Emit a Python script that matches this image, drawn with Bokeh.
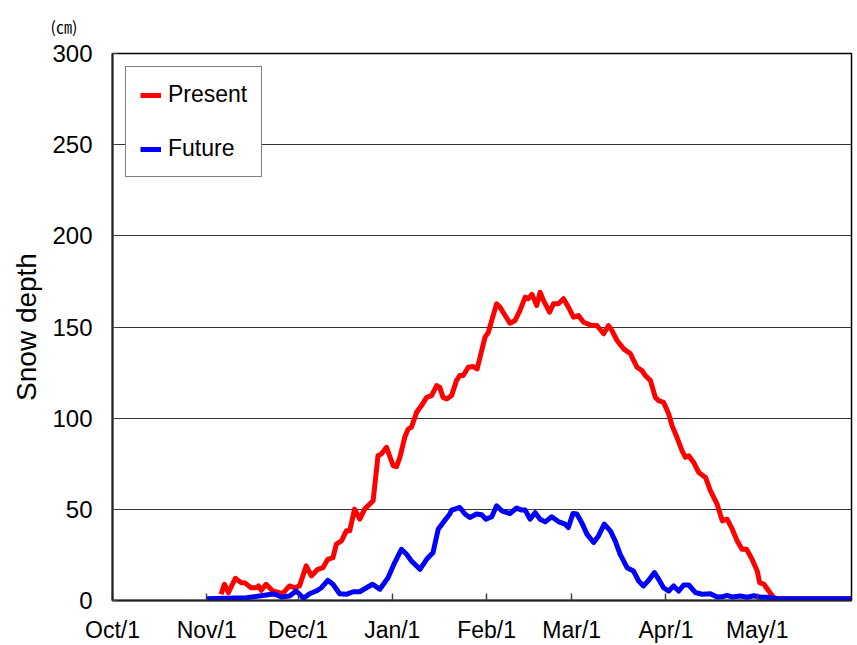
from bokeh.plotting import figure
from bokeh.models import Range1d, Legend, LegendItem, FixedTicker
from bokeh.embed import file_html
from bokeh.resources import INLINE

# x = days since Oct 1
tick_days = [0, 31, 61, 92, 123, 151, 182, 212]
tick_labels = ["Oct/1", "Nov/1", "Dec/1", "Jan/1", "Feb/1", "Mar/1", "Apr/1", "May/1"]
y_ticks = [0, 50, 100, 150, 200, 250, 300]

present_day = [35.7, 36.8, 38.1, 40.4, 42.3, 43.4, 45.6, 47.2, 48.0, 48.9, 50.5, 52.7, 54.9, 56.0,
               58.2, 59.9, 61.5, 63.7, 65.4, 67.5, 69.2, 70.8, 72.5, 73.6, 75.3, 76.9, 78.0, 79.6,
               81.3, 82.9, 85.7, 87.3, 88.4, 90.1, 92.3, 93.4, 94.5, 96.1, 97.2, 98.3, 100.0, 101.6,
               103.3, 104.9, 106.6, 107.6, 108.7, 109.9, 111.5, 113.1, 114.2, 115.3, 117.0, 118.6,
               119.9, 121.4, 122.5, 123.6, 124.7, 126.3, 127.4, 129.1, 130.7, 132.4, 134.0, 135.7,
               136.7, 137.9, 139.5, 140.6, 141.7, 143.7, 145.0, 146.6, 148.3, 149.9, 151.6, 153.2,
               154.9, 157.6, 159.3, 161.5, 163.1, 164.2, 165.9, 168.1, 170.3, 172.5, 174.1, 175.2,
               176.9, 178.5, 179.6, 181.2, 182.9, 184.0, 185.6, 187.3, 188.4, 189.5, 191.1, 192.8,
               195.0, 196.6, 198.8, 200.5, 202.1, 203.8, 205.4, 207.0, 208.5, 210.3, 212.0, 212.8,
               214.2, 215.8, 217.5, 218.5, 243.0]
present_depth = [3.4, 8.9, 4.3, 12.2, 9.8, 9.8, 7.0, 7.0, 8.0, 5.6, 8.9, 5.2, 4.3, 3.9,
                 8.0, 7.0, 8.0, 19.0, 13.5, 17.1, 18.0, 22.6, 23.5, 30.9, 32.7, 38.2, 38.2, 50.1,
                 44.6, 50.1, 54.7, 79.4, 80.3, 84.0, 73.9, 73.4, 78.5, 89.5, 94.0, 95.0, 103.2, 106.9,
                 111.4, 112.4, 117.9, 116.9, 111.4, 110.5, 112.4, 120.6, 123.4, 123.4, 127.9, 128.3,
                 127.0, 137.1, 144.4, 147.1, 153.6, 162.7, 160.9, 156.3, 152.1, 153.6, 159.1, 166.4,
                 165.5, 167.9, 161.8, 169.1, 164.6, 158.1, 162.7, 162.7, 165.5, 160.9, 155.4, 156.3,
                 152.6, 150.8, 150.8, 146.3, 150.8, 148.1, 142.6, 138.0, 135.3, 127.9, 126.1, 123.4,
                 120.6, 111.4, 109.6, 108.7, 102.3, 95.9, 89.5, 82.1, 78.5, 79.4, 75.7, 70.2,
                 67.5, 60.2, 52.9, 43.7, 44.6, 39.1, 32.7, 28.1, 28.1, 22.6, 16.2, 9.8,
                 8.9, 5.2, 1.5, 1.0, 1.0]

future_day = [31.0, 44.0, 48.3, 52.2, 53.3, 55.5, 58.2, 60.4, 61.5, 62.8, 64.8, 67.0, 68.7, 70.8,
              72.5, 74.7, 76.9, 79.1, 81.3, 83.5, 85.5, 87.9, 90.6, 92.8, 95.0, 96.7, 98.3, 101.1,
              103.3, 105.4, 107.1, 108.7, 110.9, 111.5, 114.2, 115.9, 117.5, 119.7, 121.4, 122.8,
              124.7, 126.3, 128.0, 130.7, 132.9, 134.6, 135.7, 137.3, 139.0, 140.6, 142.3, 144.4,
              146.6, 148.8, 149.9, 151.4, 152.7, 154.3, 156.0, 158.2, 159.8, 161.7, 163.7, 165.3,
              166.9, 169.2, 171.3, 173.0, 174.6, 176.3, 178.2, 179.6, 181.2, 182.9, 184.5, 186.2,
              187.8, 189.5, 191.7, 193.9, 196.6, 198.8, 200.5, 202.1, 203.8, 206.4, 208.7, 210.9,
              213.1, 215.3, 218.6, 243.0]
future_depth = [1.0, 1.5, 2.5, 3.4, 3.6, 1.9, 2.5, 5.2, 3.4, 1.2, 3.7, 5.2, 7.0, 11.1,
                8.9, 3.7, 3.4, 4.8, 4.8, 7.0, 8.9, 6.2, 12.5, 20.8, 28.1, 25.4, 21.7, 17.1,
                22.6, 26.3, 39.1, 42.7, 47.4, 49.6, 51.0, 47.4, 45.5, 47.4, 47.0, 44.6,
                45.9, 51.9, 49.2, 47.7, 50.7, 49.6, 49.6, 44.6, 48.2, 44.6, 43.1, 45.9,
                43.3, 41.9, 40.0, 47.7, 47.4, 42.7, 36.4, 31.8, 35.4, 41.9, 38.2, 32.7,
                25.4, 18.0, 16.2, 10.7, 8.0, 11.1, 15.3, 11.6, 7.0, 5.2, 8.0, 5.2,
                8.5, 8.5, 4.3, 3.4, 3.7, 1.9, 2.0, 2.8, 1.9, 2.5, 1.8, 2.6,
                1.8, 1.8, 1.0, 1.0]

FONT = "Liberation Sans"

p = figure(frame_width=739, frame_height=547, output_backend="svg", toolbar_location=None,
           x_range=Range1d(0, 243), y_range=Range1d(0, 300),
           min_border_left=112, min_border_right=2, min_border_top=53, min_border_bottom=42,
           background_fill_color="white", border_fill_color="white",
           title="(㎝)", title_location="above")

p.title.text_font = "Noto Sans CJK JP"
p.title.text_font_size = "16px"
p.title.text_font_style = "normal"
p.title.text_color = "black"
p.title.align = "left"
p.title.vertical_align = "top"
p.title.offset = -62
p.title.standoff = 27

p.outline_line_color = "black"
p.outline_line_width = 1.5

p.xgrid.grid_line_color = None
p.ygrid.grid_line_color = "#333333"
p.ygrid.grid_line_width = 1

# x axis
p.xaxis.ticker = FixedTicker(ticks=tick_days)
p.xaxis.major_label_overrides = {d: t for d, t in zip(tick_days, tick_labels)}
p.xaxis.major_tick_in = 7
p.xaxis.major_tick_out = 0
p.xaxis.minor_tick_line_color = None
p.xaxis.axis_line_color = "#222222"
p.xaxis.axis_line_width = 2
p.xaxis.major_tick_line_color = "#444444"
p.xaxis.major_tick_line_width = 1.5
p.xaxis.major_label_text_font = FONT
p.xaxis.major_label_text_font_size = "23px"
p.xaxis.major_label_text_color = "black"
p.xaxis.major_label_standoff = 16

# y axis
p.yaxis.ticker = FixedTicker(ticks=y_ticks)
p.yaxis.major_tick_in = 5
p.yaxis.major_tick_out = 0
p.yaxis.minor_tick_line_color = None
p.yaxis.axis_line_color = "#222222"
p.yaxis.axis_line_width = 2
p.yaxis.major_tick_line_color = "#444444"
p.yaxis.major_label_text_font = FONT
p.yaxis.major_label_text_font_size = "24px"
p.yaxis.major_label_text_color = "black"
p.yaxis.major_label_standoff = 20
p.yaxis.axis_label = "Snow depth"
p.yaxis.axis_label_text_font = FONT
p.yaxis.axis_label_text_font_size = "28px"
p.yaxis.axis_label_text_font_style = "normal"
p.yaxis.axis_label_text_color = "black"
p.yaxis.axis_label_standoff = 7

r_present = p.line(present_day, present_depth, line_color="#FF0000", line_width=5, line_join="round")
r_future = p.line(future_day, future_depth, line_color="#0000FF", line_width=5, line_join="round")

legend = Legend(items=[LegendItem(label="Present", renderers=[r_present]),
                       LegendItem(label="Future", renderers=[r_future])],
                location="top_left", margin=13, padding=14, spacing=27,
                glyph_width=21, glyph_height=24, label_height=24, label_standoff=7,
                label_text_font=FONT, label_text_font_size="23px", label_text_color="black",
                border_line_color="black", border_line_width=1.2,
                background_fill_color="white", background_fill_alpha=1.0)
p.add_layout(legend)

open("out.html", "w").write(file_html(p, INLINE))
